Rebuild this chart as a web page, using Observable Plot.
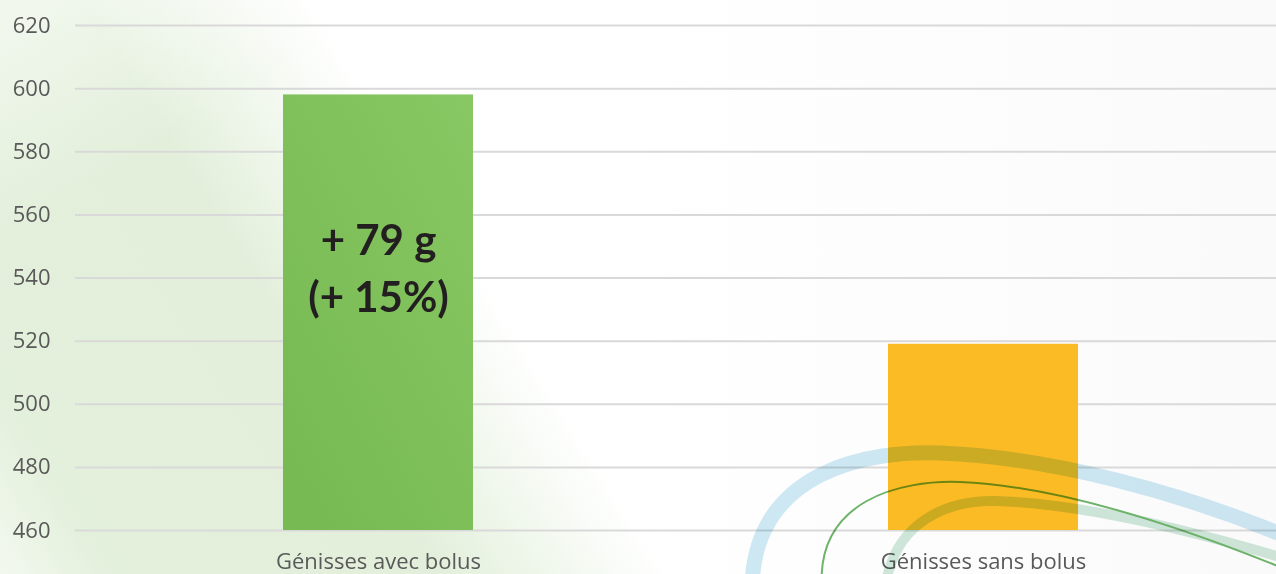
<!DOCTYPE html>
<html>
<head>
<meta charset="utf-8">
<script src="https://cdn.jsdelivr.net/npm/d3@7"></script>
<script src="https://cdn.jsdelivr.net/npm/@observablehq/plot@0.6"></script>
<style>
  html, body { margin: 0; padding: 0; width: 1276px; height: 574px; overflow: hidden; }
  body {
    position: relative;
    background:
      linear-gradient(150deg, rgba(255,255,255,0.55) 0%, rgba(255,255,255,0) 18%),
      linear-gradient(58deg, #f3f8ef 0%, #e3f0db 7%, #e3efdb 27%, rgba(232,243,226,0.7) 33%, rgba(255,255,255,0) 41%),
      linear-gradient(90deg, #ffffff 0%, #ffffff 50%, #fafafa 100%);
  }
  #chart { position: absolute; left: 0; top: 0; }
  #deco { position: absolute; left: 0; top: 0; pointer-events: none; mix-blend-mode: multiply; }
</style>
</head>
<body>
<div id="chart"></div>
<svg id="deco" width="1276" height="574" viewBox="0 0 1276 574">
  <path d="M 752 590 C 752 470, 870 450, 940 453 C 1050 457, 1180 492, 1290 538" fill="none" stroke="rgba(175,218,236,0.6)" stroke-width="15"/>
  <path d="M 885 590 C 893 520, 950 500, 995 501 C 1080 503, 1190 530, 1290 560" fill="none" stroke="rgba(170,214,190,0.55)" stroke-width="10"/>
  <path d="M 822 590 C 815 500, 900 480, 960 482 C 1060 486, 1180 526, 1290 571" fill="none" stroke="#6fb56c" stroke-width="2"/>
</svg>
<script>
const categories = ["Génisses avec bolus", "Génisses sans bolus"];
const values = [598, 519];
const barColors = ["url(#greenGrad)", "#fbbb25"];
const yTicks = [460, 480, 500, 520, 540, 560, 580, 600, 620];
const yDomain = [460, 620];

const data = categories.map((c, i) => ({cat: c, value: values[i], color: barColors[i]}));
const diff = values[0] - values[1];
const pct = Math.round(diff / values[1] * 100);
const annotation = [{cat: categories[0], y: 544, text: `+ ${diff} g\n(+ ${pct}%)`}];

const defs = () => {
  const g = d3.create("svg:defs");
  const lg = g.append("linearGradient").attr("id", "greenGrad").attr("x1", 1).attr("y1", 0).attr("x2", 0.2).attr("y2", 1);
  lg.append("stop").attr("offset", "0%").attr("stop-color", "#88c864");
  lg.append("stop").attr("offset", "100%").attr("stop-color", "#77b952");
  return g.node();
};

const chart = Plot.plot({
  width: 1276,
  height: 574,
  marginTop: 25,
  marginBottom: 44,
  marginLeft: 75,
  marginRight: 0,
  style: {background: "transparent", fontFamily: "'Open Sans', sans-serif", overflow: "visible"},
  x: {domain: categories, range: [75.5, 1285.5], paddingInner: 0.686, paddingOuter: 0.343, label: null},
  y: {domain: yDomain, label: null},
  marks: [
    defs,
    Plot.gridY(yTicks, {stroke: "#d9d9d9", strokeOpacity: 1, strokeWidth: 2}),
    Plot.barY(data, {x: "cat", y1: yDomain[0], y2: "value", fill: "color"}),
    Plot.axisY(yTicks, {tickSize: 0, tickPadding: 25, fontSize: 22, fill: "#595959", label: null}),
    Plot.axisX({tickSize: 0, tickPadding: 23, fontSize: 22, fill: "#595959", label: null}),
    Plot.text(annotation, {x: "cat", y: "y", text: "text", fontSize: 42, fontWeight: "bold", fill: "#231f20", lineHeight: 1.36, fontFamily: "Lato, sans-serif"})
  ]
});
document.getElementById("chart").appendChild(chart);
</script>
</body>
</html>
